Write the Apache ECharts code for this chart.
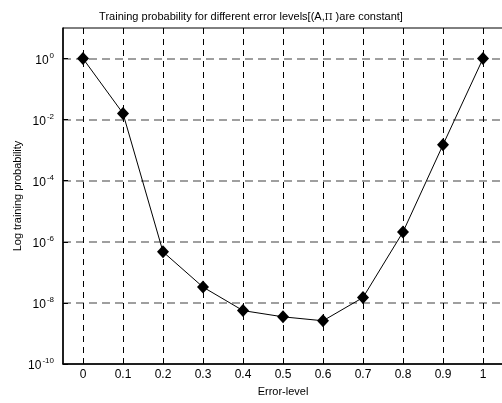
<!DOCTYPE html>
<html>
<head>
<meta charset="utf-8">
<script src="https://cdn.jsdelivr.net/npm/echarts@6/dist/echarts.min.js"></script>
<style>
  html, body { margin: 0; padding: 0; background: #fff; }
  #chart { width: 502px; height: 403px; }
</style>
</head>
<body>
<div id="chart"></div>
<script>
// Error levels on the x axis
const errorLevels = [0, 0.1, 0.2, 0.3, 0.4, 0.5, 0.6, 0.7, 0.8, 0.9, 1.0];
// Training probability at each error level
const trainingProbability = [1.0, 1.6e-2, 4.7e-7, 3.3e-8, 5.6e-9, 3.5e-9, 2.6e-9, 1.5e-8, 2.1e-6, 1.5e-3, 1.0];
// Labelled decades on the log axis
const yTickValues = [1e-10, 1e-8, 1e-6, 1e-4, 1e-2, 1];

const FONT = 'Liberation Sans, Arial, sans-serif';

const chart = echarts.init(document.getElementById('chart'), null, { renderer: 'canvas' });

chart.setOption({
  animation: false,
  backgroundColor: '#fff',
  title: {
    text: 'Training probability for different error levels[(A,{p|Π} )are constant]',
    left: 'center',
    top: 6,
    textStyle: {
      fontFamily: FONT,
      fontSize: 11,
      fontWeight: 'normal',
      color: '#000',
      rich: {
        p: { fontFamily: 'DejaVu Serif, serif', fontSize: 9, color: '#000', padding: [2, 0, 0, 0] }
      }
    }
  },
  grid: {
    left: 63, top: 28, width: 440, height: 336,
    outerBoundsMode: 'none',
    containLabel: false,
    show: true, borderColor: '#000', borderWidth: 1, backgroundColor: '#fff'
  },
  xAxis: {
    type: 'value',
    min: -0.05,
    max: 1.05,
    name: 'Error-level',
    nameLocation: 'middle',
    nameGap: 22,
    nameMoveOverlap: false,
    nameTextStyle: { fontFamily: FONT, fontSize: 11, color: '#000' },
    axisLine: { show: true, onZero: false, lineStyle: { color: '#000', width: 1.5 } },
    axisTick: { show: true, inside: true, length: 5, customValues: errorLevels, lineStyle: { color: '#000' } },
    axisLabel: {
      customValues: errorLevels,
      fontFamily: FONT, fontSize: 12, color: '#000', margin: 5,
      formatter: v => String(+(+v).toFixed(1))
    },
    splitLine: {
      show: true,
      lineStyle: { color: '#000', width: 1, type: [6, 5] }
    }
  },
  yAxis: {
    type: 'log',
    logBase: 10,
    min: 1e-10,
    max: 10,
    name: 'Log training probability',
    nameLocation: 'middle',
    nameGap: 40,
    nameMoveOverlap: false,
    nameTextStyle: { fontFamily: FONT, fontSize: 11, color: '#000' },
    axisLine: { show: true, onZero: false, lineStyle: { color: '#000', width: 1.5 } },
    axisTick: { show: true, inside: true, length: 5, customValues: yTickValues, lineStyle: { color: '#000' } },
    axisLabel: {
      customValues: yTickValues,
      margin: 9,
      formatter: v => '{b|10}{s|' + Math.round(Math.log10(v)) + '}',
      rich: {
        b: { fontFamily: FONT, fontSize: 12, color: '#000', verticalAlign: 'bottom', lineHeight: 16 },
        s: { fontFamily: FONT, fontSize: 8, color: '#000', verticalAlign: 'bottom', lineHeight: 16, padding: [0, 0, 7, 1] }
      }
    },
    splitLine: {
      show: true,
      lineStyle: { color: '#808080', width: 1.5, type: [8, 5] }
    }
  },
  series: [{
    type: 'line',
    data: errorLevels.map((x, i) => [x, trainingProbability[i]]),
    symbol: 'diamond',
    symbolSize: [12, 13],
    itemStyle: { color: '#000' },
    lineStyle: { color: '#000', width: 1 },
    z: 5
  }]
});
</script>
</body>
</html>
